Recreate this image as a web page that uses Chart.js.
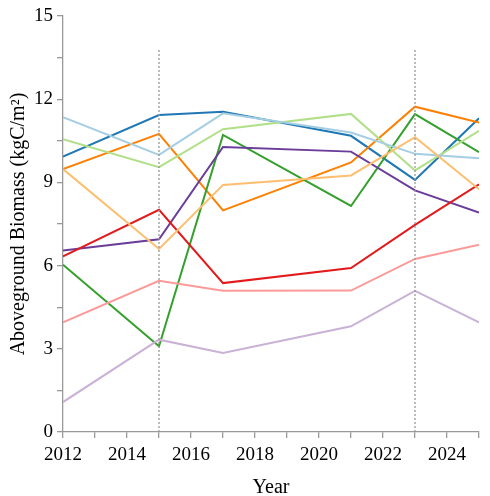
<!DOCTYPE html>
<html>
<head>
<meta charset="utf-8">
<script src="https://cdn.jsdelivr.net/npm/chart.js@4/dist/chart.umd.min.js"></script>
<style>
  html, body { margin: 0; padding: 0; background: #fff; }
  #wrap { width: 490px; height: 496px; }
</style>
</head>
<body>
<div id="wrap"><canvas id="myChart" width="490" height="496"></canvas></div>
<script>
const years = [2012, 2015, 2017, 2021, 2023, 2025];

const darkBlue   = [9.93, 11.43, 11.55, 10.68, 9.09, 11.31];
const lightBlue  = [11.35, 9.99, 11.49, 10.80, 10.03, 9.87];
const lightGreen = [10.56, 9.55, 10.92, 11.47, 9.43, 10.86];
const darkGreen  = [6.03, 3.09, 10.71, 8.15, 11.46, 10.09];
const orange     = [9.48, 10.75, 7.99, 9.72, 11.73, 11.16];
const lightOrange = [9.48, 6.60, 8.91, 9.25, 10.63, 8.75];
const red        = [6.33, 8.01, 5.37, 5.91, 7.47, 8.93];
const purple     = [6.54, 6.95, 10.28, 10.11, 8.71, 7.91];
const pink       = [3.95, 5.45, 5.09, 5.10, 6.24, 6.75];
const lavender   = [1.08, 3.33, 2.85, 3.81, 5.09, 3.95];

// dotted reference years
const refYears = [2015, 2023];
const refRange = [0, 13.85];

const xTicks = [2012, 2014, 2016, 2018, 2020, 2022, 2024];
const yTicks = [0, 3, 6, 9, 12, 15];

function pts(vals) {
    return years.map((y, i) => ({ x: y, y: vals[i] }));
}

const series = [
    [lavender, '#cab2d6'],
    [pink, '#fb9a99'],
    [lightOrange, '#fdbf6f'],
    [lightBlue, '#a6cee3'],
    [lightGreen, '#b2df8a'],
    [red, '#e31a1c'],
    [purple, '#6a3d9a'],
    [darkGreen, '#33a02c'],
    [orange, '#ff7f00'],
    [darkBlue, '#1f78b4']
];

const datasets = refYears.map(yr => ({
    data: refRange.map(v => ({ x: yr, y: v })),
    borderColor: '#999',
    borderWidth: 1.3,
    borderDash: [2, 2],
    pointRadius: 0
}));

series.forEach(([vals, col]) => {
    datasets.push({
        data: pts(vals),
        borderColor: col,
        borderWidth: 2,
        pointRadius: 0,
        tension: 0
    });
});

const font = { family: '"Liberation Serif", "Times New Roman", serif', size: 19 };
const titleFont = { family: '"Liberation Serif", "Times New Roman", serif', size: 20 };

let ctx = document.getElementById('myChart').getContext('2d');
let myChart = new Chart(ctx, {
    type: 'line',
    data: { datasets: datasets },
    options: {
        responsive: false,
        animation: false,
        layout: { padding: { top: 16, right: 11, left: 0, bottom: 0 } },
        plugins: { legend: { display: false }, tooltip: { enabled: false } },
        scales: {
            x: {
                type: 'linear',
                min: 2012,
                max: 2025,
                border: { color: '#999', width: 1.3 },
                grid: { drawOnChartArea: false, drawTicks: true, tickLength: 6, color: '#999', lineWidth: 1.3 },
                ticks: {
                    stepSize: 1,
                    autoSkip: false,
                    maxRotation: 0,
                    color: '#000',
                    font: font,
                    padding: 6,
                    callback: v => xTicks.includes(v) ? String(v) : ''
                },
                title: { display: true, text: 'Year', color: '#000', font: titleFont, padding: { top: 11, bottom: -4 } },
                afterFit: s => { s.height = 64; }
            },
            y: {
                min: 0,
                max: 15,
                border: { color: '#999', width: 1.3 },
                grid: { drawOnChartArea: false, drawTicks: true, tickLength: 6, color: '#999', lineWidth: 1.3 },
                ticks: {
                    stepSize: 1.5,
                    autoSkip: false,
                    color: '#000',
                    font: font,
                    padding: 4,
                    callback: v => yTicks.includes(v) ? String(v) : ''
                },
                title: { display: true, text: 'Aboveground Biomass (kgC/m²)', color: '#000', font: titleFont, padding: { top: 7, bottom: 0 } },
                afterFit: s => { s.width = 63; }
            }
        }
    }
});
</script>
</body>
</html>
